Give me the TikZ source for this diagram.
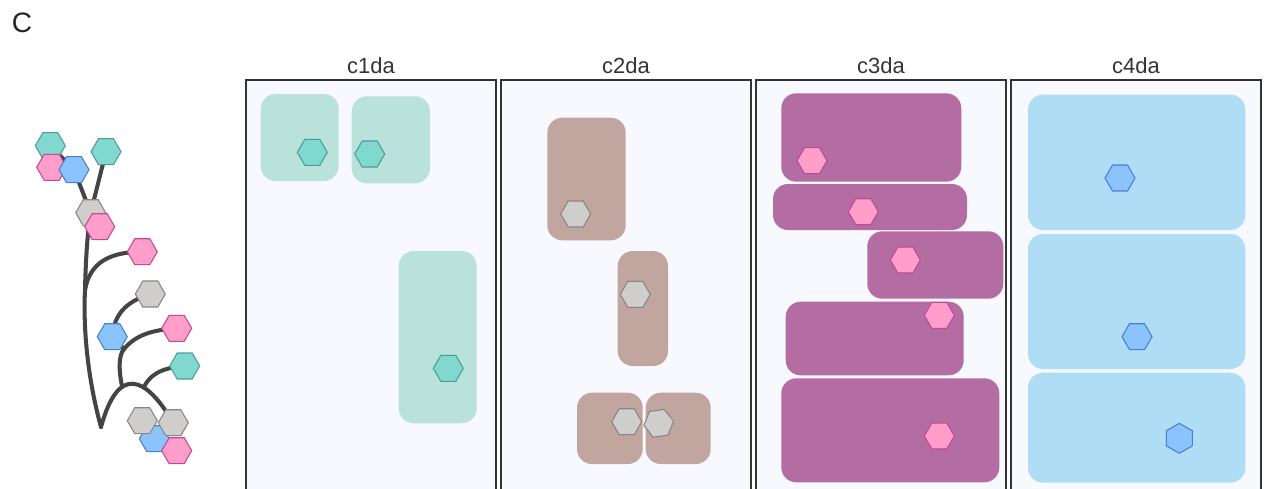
\documentclass[tikz,border=0pt]{standalone}
\usepackage{fontspec}
\setmainfont{Liberation Sans}
\usetikzlibrary{shapes.geometric,backgrounds}
\definecolor{panelbg}{HTML}{F8F9FE}
\definecolor{frameline}{HTML}{333333}
\definecolor{treeline}{HTML}{444444}
\definecolor{tealbox}{HTML}{B8E2DA}
\definecolor{tealhex}{HTML}{80D8CF}
\definecolor{tealline}{HTML}{4A9E96}
\definecolor{brownbox}{HTML}{C1A59F}
\definecolor{grayhex}{HTML}{D0CDCD}
\definecolor{grayline}{HTML}{8A8585}
\definecolor{purplebox}{HTML}{B36DA3}
\definecolor{pinkhex}{HTML}{FF9DCB}
\definecolor{pinkline}{HTML}{C04A90}
\definecolor{bluebox}{HTML}{AEDDF5}
\definecolor{bluehex}{HTML}{8BC3FC}
\definecolor{blueline}{HTML}{4A7FD0}

\tikzset{
  hexa/.style={regular polygon,regular polygon sides=6,minimum size=0.6cm,inner sep=0pt,line width=0.6pt},
  hteal/.style={hexa,fill=tealhex,draw=tealline},
  hgray/.style={hexa,fill=grayhex,draw=grayline},
  hpink/.style={hexa,fill=pinkhex,draw=pinkline},
  hblue/.style={hexa,fill=bluehex,draw=blueline},
  cluster/.style={rounded corners=0.3cm},
  branch/.style={line width=2.3pt,draw=treeline,line cap=round},
  title/.style={font=\fontsize{12.5}{15}\selectfont,text=black!80},
}

\begin{document}
\begin{tikzpicture}[x=0.02cm,y=-0.02cm]
  \useasboundingbox (0,0) rectangle (1266,488);
  \clip (0,0) rectangle (1266,488);
  \pgfmathsetmacro{\PanelW}{250};
  \pgfmathsetmacro{\PanelGap}{255};
  %
  \node[font=\fontsize{16}{19}\selectfont,text=black!85] (label) at (22,23) {C};
  % panels
  \foreach \i/\name in {0/c1da,1/c2da,2/c3da,3/c4da}{
    \pgfmathsetmacro{\xl}{246+\i*\PanelGap};
    \pgfmathsetmacro{\xr}{\xl+\PanelW};
    \fill[panelbg] (\xl,80) rectangle (\xr,492);
    \draw[frameline,line width=1.1pt] (\xl,492) -- (\xl,80) -- (\xr,80) -- (\xr,492);
    \node[title] (t-\name) at ({\xl+\PanelW/2},66) {\name};
  }
  % c1da
  \fill[tealbox,cluster] (260.7,94) rectangle (338.7,181);
  \fill[tealbox,cluster] (351.7,96.3) rectangle (430,183.3);
  \fill[tealbox,cluster] (398.7,251) rectangle (476.7,423.3);
  \node[hteal] (c1a) at (312.3,152.3) {};
  \node[hteal] (c1b) at (369.7,154) {};
  \node[hteal] (c1c) at (448.3,368.3) {};
  % c2da
  \fill[brownbox,cluster] (547.3,117.7) rectangle (625.7,240.3);
  \fill[brownbox,cluster] (617.7,251) rectangle (668,366);
  \fill[brownbox,cluster] (577,392.7) rectangle (642.7,464);
  \fill[brownbox,cluster] (645.7,392.7) rectangle (710.7,464);
  \node[hgray] (c2a) at (575.7,214) {};
  \node[hgray] (c2b) at (635.3,294.3) {};
  \node[hgray] (c2c) at (626.7,421.7) {};
  \node[hgray,rotate=8] (c2d) at (658.7,423.3) {};
  % c3da
  \fill[purplebox,cluster] (781.3,93.3) rectangle (961.3,181.7);
  \fill[purplebox,cluster] (773,184) rectangle (967,230);
  \fill[purplebox,cluster] (867.3,231.3) rectangle (1003.3,298.7);
  \fill[purplebox,cluster] (785.7,301.7) rectangle (963.7,375.3);
  \fill[purplebox,cluster] (781.3,378.3) rectangle (999.3,482.3);
  \node[hpink] (c3a) at (812,160.7) {};
  \node[hpink] (c3b) at (863.3,211.7) {};
  \node[hpink] (c3c) at (905.3,260) {};
  \node[hpink] (c3d) at (939.3,315.3) {};
  \node[hpink] (c3e) at (939.3,436) {};
  % c4da
  \fill[bluebox,cluster] (1028,94.7) rectangle (1245.3,230);
  \fill[bluebox,cluster] (1028,234) rectangle (1245.3,369);
  \fill[bluebox,cluster] (1028,372.7) rectangle (1245.3,482.7);
  \node[hblue] (c4a) at (1120,178) {};
  \node[hblue] (c4b) at (1137,336.7) {};
  \node[hblue,rotate=90] (c4c) at (1179.3,438.3) {};
  % tree leaves
  \node[hteal] (t1) at (50.3,145.7) {};
  \node[hpink] (p1) at (51.7,167.3) {};
  \node[hblue] (b1) at (74,169.7) {};
  \node[hteal] (t2) at (106,151.7) {};
  \node[hgray] (g1) at (90.7,212.7) {};
  \node[hpink] (p2) at (99.7,226.7) {};
  \node[hpink] (p3) at (142.3,251.7) {};
  \node[hgray] (g2) at (150.3,294) {};
  \node[hpink] (p4) at (176.7,328.3) {};
  \node[hblue] (b2) at (112.3,336.7) {};
  \node[hteal] (t3) at (184.7,366) {};
  \node[hblue] (b3) at (154.3,438.7) {};
  \node[hgray] (g3) at (142.3,420.7) {};
  \node[hgray] (g4) at (173.3,422.7) {};
  \node[hpink] (p5) at (176.7,450.7) {};
  % tree branches
  \coordinate (root) at (101,427);
  \coordinate (jA) at (85,290);
  \coordinate (jC) at (124,349);
  \begin{scope}[on background layer]
    \draw[branch] (root) .. controls (88,380) and (83,330) .. (jA) .. controls (86,250) and (88,230) .. (g1.center);
    \draw[branch] (jA) .. controls (90,262) and (110,252) .. (p3.center);
    \draw[branch] (g1.center) -- (b1.center);
    \draw[branch] (g1.center) -- (t2.center);
    \draw[branch] (b1.center) -- (t1.center);
    \draw[branch] (b1.center) -- (p1.center);
    \draw[branch] (root) .. controls (118,365) and (145,375) .. (g4.center)
      coordinate[pos=0.35] (jB) coordinate[pos=0.64] (jE);
    \draw[branch] (jB) .. controls (119,372) and (118,356) .. (jC);
    \draw[branch] (jC) .. controls (135,336) and (150,330) .. (p4.center);
    \draw[branch] (jC) -- (b2.center);
    \draw[branch] (b2.center) .. controls (114,315) and (125,302) .. (g2.center);
    \draw[branch] (jE) .. controls (150,375) and (160,368) .. (t3.center);
  \end{scope}
\end{tikzpicture}
\end{document}
